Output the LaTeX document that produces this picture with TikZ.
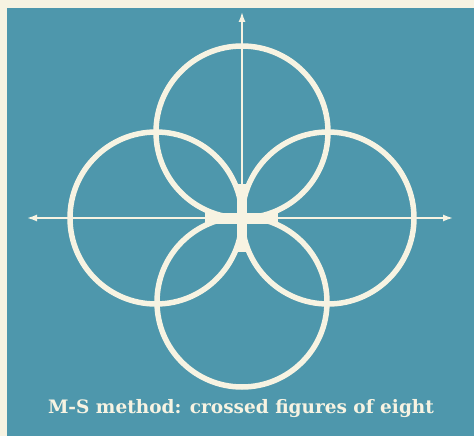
\documentclass[tikz,border=0pt]{standalone}
\usepackage{fontspec}
\newfontfamily\capfont{DejaVu Serif}
\usetikzlibrary{arrows.meta}
\definecolor{sea}{RGB}{78,151,172}
\definecolor{chalk}{RGB}{247,243,226}

\begin{document}
\begin{tikzpicture}[x=1pt,y=-1pt,>={Latex[length=10pt,width=7pt]}]
  \fill[chalk] (0,0) rectangle (474,436);
  \fill[sea] (7,8) rectangle (474,436);
  \coordinate (o) at (242,218);
  \coordinate (xl) at (27,218);
  \coordinate (xr) at (453,218);
  \coordinate (yt) at (242,12);
  \draw[chalk,line width=1.6pt,<->] (xl) -- (xr);
  \draw[chalk,line width=1.6pt,->] (o) -- (yt);
  \draw[chalk,line width=5.5pt] (242,132) circle (86);
  \draw[chalk,line width=5.5pt] (242,302) circle (85);
  \draw[chalk,line width=5.5pt] (156,218) circle (86);
  \draw[chalk,line width=5.5pt] (328,218) circle (86);
  \fill[chalk] (237,184) rectangle (247,252);
  \fill[chalk] (205,213) rectangle (278,224);
  \node[text=chalk,font=\capfont\bfseries\fontsize{18.5}{21}\selectfont] (cap) at (241,409) {M-S method: crossed figures of eight};
\end{tikzpicture}
\end{document}
